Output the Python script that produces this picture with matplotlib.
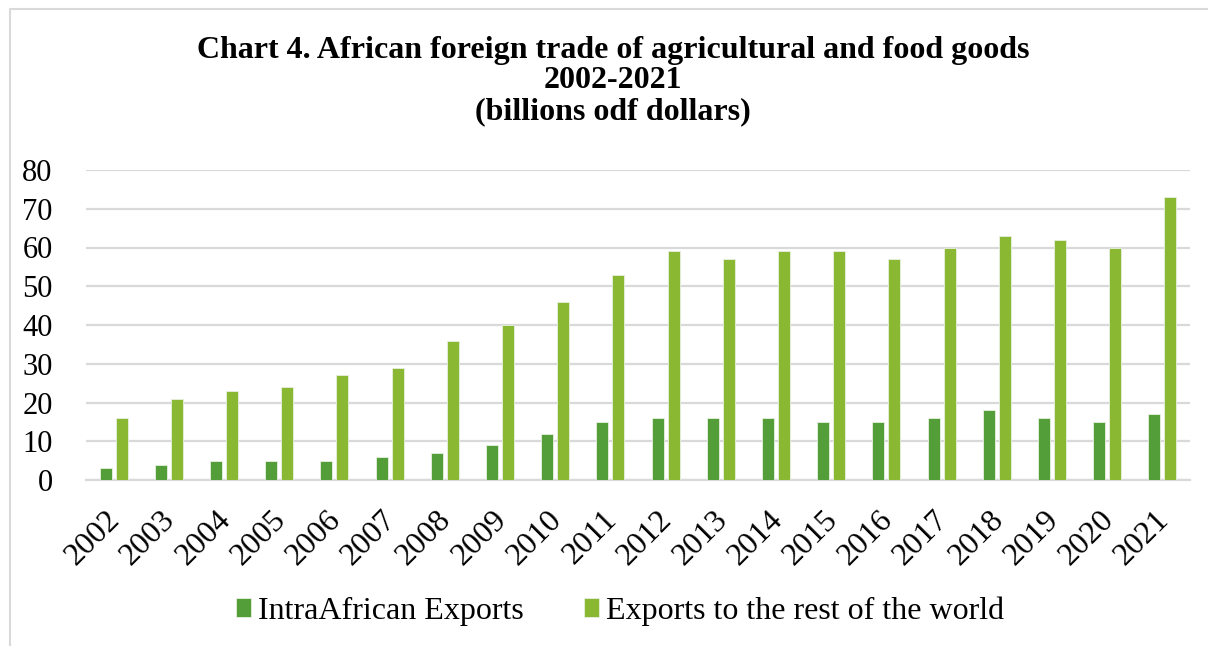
"""Chart 4: African foreign trade of agricultural and food goods, 2002-2021."""

import matplotlib.pyplot as plt
import numpy as np
from matplotlib.lines import Line2D
from matplotlib.transforms import ScaledTranslation

plt.rcParams["font.family"] = ["Liberation Serif", "DejaVu Serif"]

# ---------------------------------------------------------------------------
# Data (billions of dollars)
# ---------------------------------------------------------------------------
years = [str(y) for y in range(2002, 2022)]
intra_african = [3, 4, 5, 5, 5, 6, 7, 9, 12, 15, 16, 16, 16, 15, 15, 16, 18, 16, 15, 17]
rest_of_world = [16, 21, 23, 24, 27, 29, 36, 40, 46, 53, 59, 57, 59, 59, 57, 60, 63, 62, 60, 73]

title_lines = [
    "Chart 4. African foreign trade of agricultural and food goods",
    "2002-2021",
    "(billions odf dollars)",
]

DARK_GREEN = "#549E39"
LIGHT_GREEN = "#8AB833"
GRID_GREY = "#D9D9D9"

W, H = 1208, 646
fig = plt.figure(figsize=(W / 100, H / 100), dpi=100)
ax = fig.add_axes([86 / W, 1 - 480 / H, (1190 - 86) / W, (480 - 170) / H])

x = np.arange(len(years))
bar_w = 0.22
offset = 0.145
ax.bar(x - offset, intra_african, width=bar_w, color=DARK_GREEN,
       edgecolor="#E8F0E0", linewidth=0.6, label="IntraAfrican Exports", zorder=3)
ax.bar(x + offset, rest_of_world, width=bar_w, color=LIGHT_GREEN,
       edgecolor="#E8F0E0", linewidth=0.6, label="Exports to the rest of the world", zorder=3)

ax.set_xlim(-0.5, len(years) - 0.5)
ax.set_ylim(0, 80)
ax.set_yticks(range(0, 81, 10))
ax.yaxis.grid(True, color=GRID_GREY, linewidth=1.6, zorder=0)
ax.set_axisbelow(True)
for side in ("top", "right", "left"):
    ax.spines[side].set_visible(False)
ax.spines["bottom"].set_color(GRID_GREY)
ax.spines["bottom"].set_linewidth(1.6)
ax.tick_params(axis="both", length=0)
ax.tick_params(axis="y", labelsize=22, pad=24)
ax.set_xticks(x)
ax.set_xticklabels(years, rotation=45, ha="right", rotation_mode="anchor", fontsize=23)
ax.tick_params(axis="x", pad=6)
# nudge the slanted year labels down-left, as Excel places them
shift = ScaledTranslation(-0.08, -0.17, fig.dpi_scale_trans)
for lbl in ax.get_xticklabels():
    lbl.set_transform(lbl.get_transform() + shift)

# three title lines placed on their own baselines
for baseline_px, line in zip([58, 88.5, 119], title_lines):
    fig.text(613 / W, 1 - baseline_px / H, line, ha="center", va="baseline",
             fontsize=23, fontweight="bold")

ax.legend(loc="center", bbox_to_anchor=(620 / W, 1 - 611 / H), bbox_transform=fig.transFigure,
          ncol=2, frameon=False, fontsize=23, handlelength=0.47, handleheight=0.5,
          handletextpad=0.2, columnspacing=1.9)

# source frame: only the top and left edges remain inside the crop
fig.add_artist(Line2D([10 / W, 10 / W, 1], [0, 1 - 9 / H, 1 - 9 / H],
                      transform=fig.transFigure, color=GRID_GREY, linewidth=1.5))

fig.savefig("out.png", dpi=100)
